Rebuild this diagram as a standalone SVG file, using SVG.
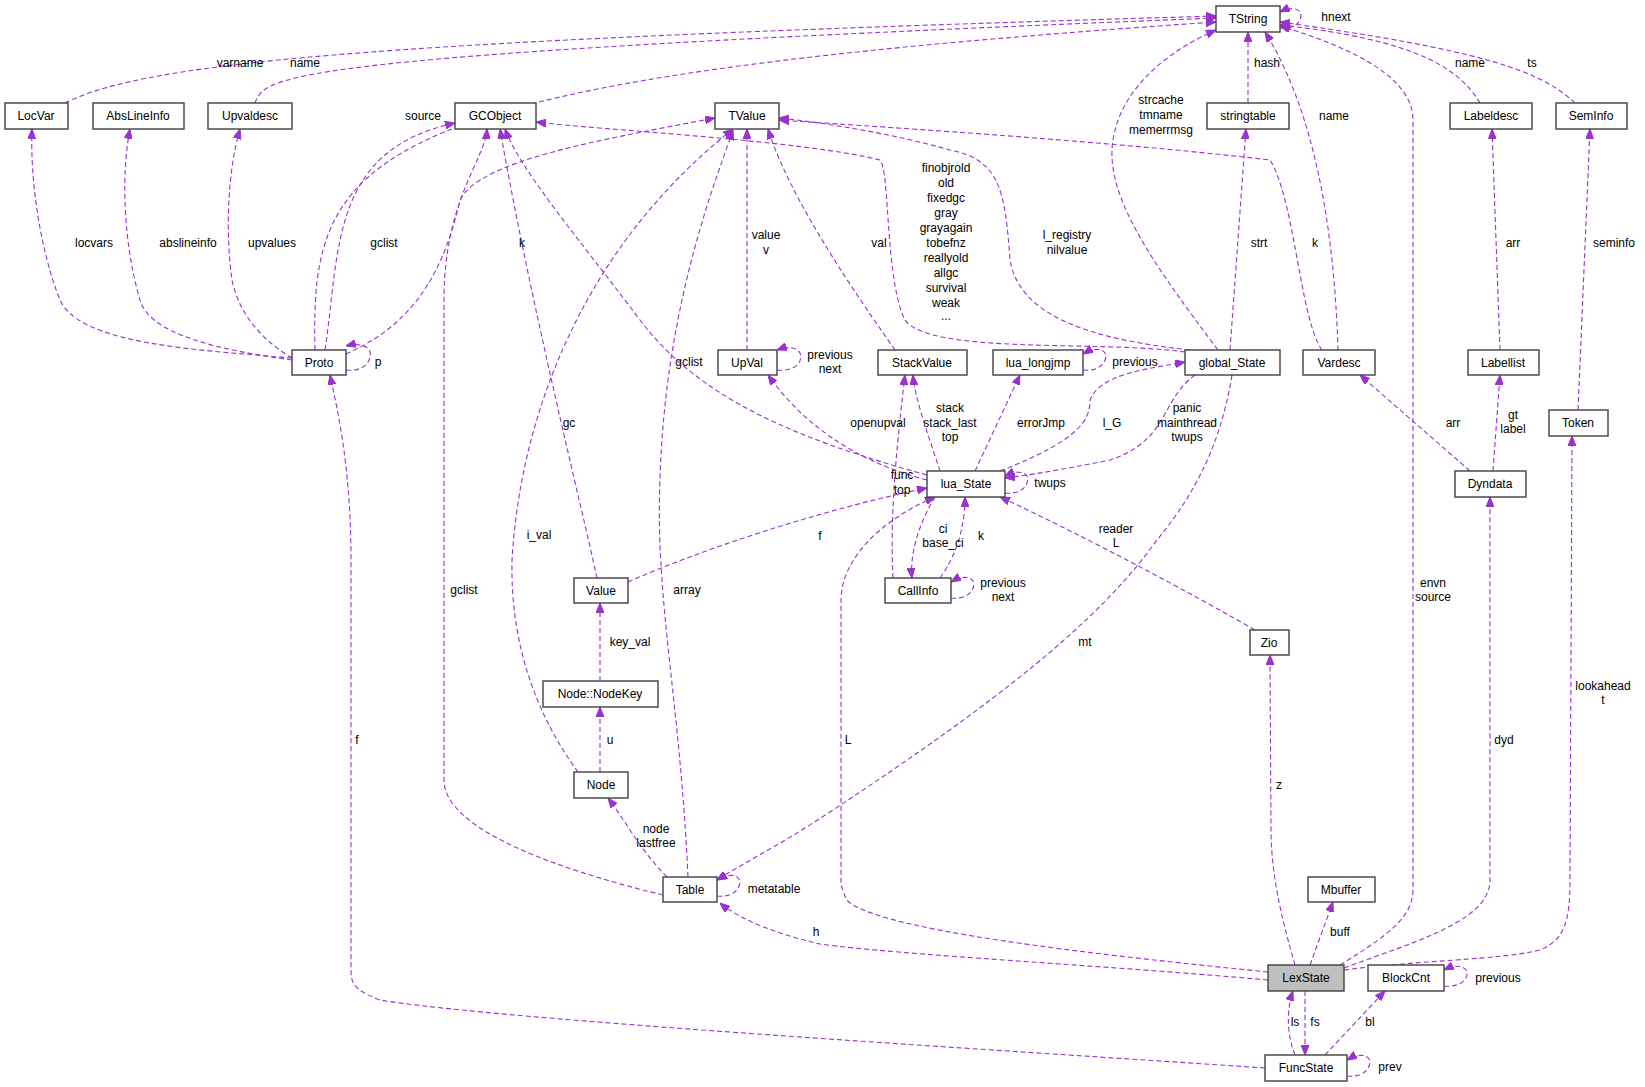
<svg xmlns="http://www.w3.org/2000/svg" width="1645" height="1087" viewBox="0 0 1645 1087">
<style>
.n rect{fill:#fff;stroke:#404040;stroke-width:1.4}
.n text,.l{font-family:"Liberation Sans",Arial,sans-serif;font-size:12px;fill:#000}
.n text{text-anchor:middle}
.l{text-anchor:middle}
.e path{fill:none;stroke:#9a32cd;stroke-width:1.1;stroke-dasharray:5,3;marker-end:url(#a)}
</style>
<defs>
<marker id="a" viewBox="0 0 10 8" refX="10" refY="4" markerWidth="10" markerHeight="8" markerUnits="userSpaceOnUse" orient="auto">
<path d="M0,0 L10,4 L0,8 Z" fill="#9a32cd" stroke="#9a32cd"/>
</marker>
</defs>
<rect width="1645" height="1087" fill="#fff"/>
<g class="e" id="edges">
<path d="M65,103 C150,60 400,40 1216,16"/>
<path d="M255,103 C265,75 280,55 1216,18"/>
<path d="M315,350 C310,150 360,80 1216,22"/>
<path d="M292,358 C200,350 80,345 60,300 C40,250 30,180 32,129"/>
<path d="M292,360 C220,350 150,335 140,300 C125,250 120,180 130,129"/>
<path d="M292,358 C270,345 240,320 232,280 C225,230 228,170 240,129"/>
<path d="M325,350 C340,250 330,150 455,123"/>
<path d="M346,354 C400,330 440,290 460,200 C480,160 600,140 715,118"/>
<path d="M346,370 C365,372 372,360 370,352 C368,345 358,343 346,346"/>
<path d="M663,895 C560,870 444,830 444,780 L444,300 C444,200 485,160 487,129"/>
<path d="M597,578 C580,500 530,300 500,129"/>
<path d="M927,475 C800,440 700,400 640,320 C580,240 520,170 505,129"/>
<path d="M1185,352 C1100,340 930,355 905,320 C885,280 890,170 880,160 C800,140 600,130 536,122"/>
<path d="M1190,350 C1100,340 1020,320 1010,260 C1005,190 1000,160 950,150 C880,130 800,120 779,118"/>
<path d="M1322,350 C1300,320 1295,200 1270,160 C1100,140 850,125 779,120"/>
<path d="M895,350 C860,300 790,200 768,129"/>
<path d="M747,350 L747,129"/>
<path d="M777,370 C797,372 803,360 800,353 C797,347 788,346 777,350"/>
<path d="M578,772 C540,720 510,650 512,560 C520,420 580,250 733,129"/>
<path d="M688,877 C680,700 655,600 660,480 C665,300 720,170 733,130"/>
<path d="M628,582 C700,550 820,510 927,488"/>
<path d="M600,681 L600,603"/>
<path d="M600,772 L600,707"/>
<path d="M667,877 C640,850 625,820 608,798"/>
<path d="M717,896 C737,898 742,884 739,879 C736,874 728,874 717,880"/>
<path d="M1232,375 C1220,450 1190,500 1157,540 C1100,620 1000,700 830,812 C780,845 740,865 717,880"/>
<path d="M1268,980 C1100,965 900,955 820,944 C780,935 740,920 720,903"/>
<path d="M1268,972 C1100,955 870,930 846,899 L841,885 L841,600 C841,560 880,520 935,497"/>
<path d="M1340,965 C1380,940 1413,920 1413,890 L1413,120 C1413,80 1360,50 1280,26"/>
<path d="M1344,968 C1420,940 1490,920 1490,880 L1490,497"/>
<path d="M1344,970 C1420,960 1500,960 1540,950 C1565,940 1570,920 1570,880 L1572,436"/>
<path d="M1295,965 C1285,930 1271,880 1271,830 L1270,655"/>
<path d="M1310,965 L1333,902"/>
<path d="M1305,991 L1305,1055"/>
<path d="M1295,1055 C1285,1030 1288,1005 1293,991"/>
<path d="M1325,1055 L1385,991"/>
<path d="M1444,986 C1464,988 1470,975 1466,970 C1462,965 1454,965 1444,970"/>
<path d="M1347,1076 C1367,1078 1372,1064 1369,1059 C1366,1054 1357,1054 1347,1060"/>
<path d="M1265,1068 C1000,1050 500,1020 380,1000 C355,990 351,985 351,970 L351,560 C351,460 335,400 330,375"/>
<path d="M1470,471 L1360,375"/>
<path d="M1493,471 L1500,375"/>
<path d="M1500,350 L1492,129"/>
<path d="M1578,410 L1590,129"/>
<path d="M1575,103 C1540,70 1480,50 1280,22"/>
<path d="M1480,103 C1460,70 1420,40 1280,25"/>
<path d="M1280,28 C1300,30 1303,16 1300,12 C1296,7 1288,8 1280,12"/>
<path d="M1248,103 L1248,32"/>
<path d="M1230,350 L1246,129"/>
<path d="M1218,350 C1150,260 1110,200 1112,150 C1115,90 1170,50 1216,30"/>
<path d="M1338,350 C1335,250 1320,120 1265,32"/>
<path d="M1000,471 C1080,440 1090,420 1090,400 C1100,375 1140,370 1185,362"/>
<path d="M1195,375 C1160,400 1170,440 1110,460 C1060,470 1030,475 1005,478"/>
<path d="M1005,493 C1025,495 1030,481 1027,476 C1024,471 1015,471 1005,476"/>
<path d="M975,471 L1020,375"/>
<path d="M1083,370 C1103,372 1108,358 1105,353 C1102,348 1093,348 1083,354"/>
<path d="M940,471 C930,440 915,400 913,375"/>
<path d="M893,578 C890,520 895,460 905,375"/>
<path d="M927,480 C850,460 800,420 768,375"/>
<path d="M935,497 C915,530 910,560 912,578"/>
<path d="M940,578 C960,550 965,520 965,497"/>
<path d="M1255,630 C1150,570 1050,520 1000,497"/>
<path d="M951,598 C971,600 976,586 973,581 C970,576 961,576 951,582"/>
</g>
<g class="l">
<text class="l" x="240" y="67">varname</text>
<text class="l" x="305" y="67">name</text>
<text class="l" x="94" y="247">locvars</text>
<text class="l" x="188" y="247">abslineinfo</text>
<text class="l" x="272" y="247">upvalues</text>
<text class="l" x="384" y="247">gclist</text>
<text class="l" x="423" y="120">source</text>
<text class="l" x="522" y="247">k</text>
<text class="l" x="766" y="239">value</text>
<text class="l" x="766" y="254">v</text>
<text class="l" x="689" y="366">gclist</text>
<text class="l" x="569" y="427">gc</text>
<text class="l" x="539" y="539">i_val</text>
<text class="l" x="378" y="366">p</text>
<text class="l" x="1336" y="21">hnext</text>
<text class="l" x="1470" y="67">name</text>
<text class="l" x="1532" y="67">ts</text>
<text class="l" x="1267" y="67">hash</text>
<text class="l" x="1161" y="104">strcache</text>
<text class="l" x="1161" y="119">tmname</text>
<text class="l" x="1161" y="134">memerrmsg</text>
<text class="l" x="1334" y="120">name</text>
<text class="l" x="946" y="172">finobjrold</text>
<text class="l" x="946" y="187">old</text>
<text class="l" x="946" y="202">fixedgc</text>
<text class="l" x="946" y="217">gray</text>
<text class="l" x="946" y="232">grayagain</text>
<text class="l" x="946" y="247">tobefnz</text>
<text class="l" x="946" y="262">reallyold</text>
<text class="l" x="946" y="277">allgc</text>
<text class="l" x="946" y="292">survival</text>
<text class="l" x="946" y="307">weak</text>
<text class="l" x="946" y="320">...</text>
<text class="l" x="879" y="247">val</text>
<text class="l" x="1067" y="239">l_registry</text>
<text class="l" x="1067" y="254">nilvalue</text>
<text class="l" x="1259" y="247">strt</text>
<text class="l" x="1315" y="247">k</text>
<text class="l" x="1513" y="247">arr</text>
<text class="l" x="1614" y="247">seminfo</text>
<text class="l" x="1135" y="366">previous</text>
<text class="l" x="830" y="359">previous</text>
<text class="l" x="830" y="373">next</text>
<text class="l" x="950" y="412">stack</text>
<text class="l" x="950" y="427">stack_last</text>
<text class="l" x="950" y="441">top</text>
<text class="l" x="878" y="427">openupval</text>
<text class="l" x="1041" y="427">errorJmp</text>
<text class="l" x="1112" y="427">l_G</text>
<text class="l" x="1187" y="412">panic</text>
<text class="l" x="1187" y="427">mainthread</text>
<text class="l" x="1187" y="441">twups</text>
<text class="l" x="1453" y="427">arr</text>
<text class="l" x="1513" y="419">gt</text>
<text class="l" x="1513" y="433">label</text>
<text class="l" x="902" y="479">func</text>
<text class="l" x="902" y="494">top</text>
<text class="l" x="1050" y="487">twups</text>
<text class="l" x="943" y="533">ci</text>
<text class="l" x="943" y="547">base_ci</text>
<text class="l" x="981" y="540">k</text>
<text class="l" x="1116" y="533">reader</text>
<text class="l" x="1116" y="547">L</text>
<text class="l" x="820" y="540">f</text>
<text class="l" x="464" y="594">gclist</text>
<text class="l" x="687" y="594">array</text>
<text class="l" x="630" y="646">key_val</text>
<text class="l" x="610" y="744">u</text>
<text class="l" x="357" y="744">f</text>
<text class="l" x="656" y="833">node</text>
<text class="l" x="656" y="847">lastfree</text>
<text class="l" x="774" y="893">metatable</text>
<text class="l" x="816" y="936">h</text>
<text class="l" x="1003" y="587">previous</text>
<text class="l" x="1003" y="601">next</text>
<text class="l" x="1433" y="587">envn</text>
<text class="l" x="1433" y="601">source</text>
<text class="l" x="1603" y="690">lookahead</text>
<text class="l" x="1603" y="704">t</text>
<text class="l" x="1504" y="744">dyd</text>
<text class="l" x="848" y="744">L</text>
<text class="l" x="1085" y="646">mt</text>
<text class="l" x="1279" y="789">z</text>
<text class="l" x="1340" y="936">buff</text>
<text class="l" x="1498" y="982">previous</text>
<text class="l" x="1295" y="1026">ls</text>
<text class="l" x="1315" y="1026">fs</text>
<text class="l" x="1370" y="1026">bl</text>
<text class="l" x="1390" y="1071">prev</text>
</g>
<g class="n" id="TString"><rect x="1216" y="6" width="64" height="26"/><text x="1248" y="23">TString</text></g>
<g class="n" id="LocVar"><rect x="5" y="103" width="63" height="26"/><text x="36" y="120">LocVar</text></g>
<g class="n" id="AbsLineInfo"><rect x="93" y="103" width="91" height="26"/><text x="138" y="120">AbsLineInfo</text></g>
<g class="n" id="Upvaldesc"><rect x="208" y="103" width="84" height="26"/><text x="250" y="120">Upvaldesc</text></g>
<g class="n" id="GCObject"><rect x="455" y="103" width="81" height="26"/><text x="495" y="120">GCObject</text></g>
<g class="n" id="TValue"><rect x="715" y="103" width="64" height="26"/><text x="747" y="120">TValue</text></g>
<g class="n" id="stringtable"><rect x="1207" y="103" width="82" height="26"/><text x="1248" y="120">stringtable</text></g>
<g class="n" id="Labeldesc"><rect x="1450" y="103" width="82" height="26"/><text x="1491" y="120">Labeldesc</text></g>
<g class="n" id="SemInfo"><rect x="1556" y="103" width="71" height="26"/><text x="1591" y="120">SemInfo</text></g>
<g class="n" id="Proto"><rect x="292" y="350" width="54" height="25"/><text x="319" y="367">Proto</text></g>
<g class="n" id="UpVal"><rect x="718" y="350" width="59" height="25"/><text x="747" y="367">UpVal</text></g>
<g class="n" id="StackValue"><rect x="878" y="350" width="89" height="25"/><text x="922" y="367">StackValue</text></g>
<g class="n" id="lua_longjmp"><rect x="993" y="350" width="90" height="25"/><text x="1038" y="367">lua_longjmp</text></g>
<g class="n" id="global_State"><rect x="1185" y="350" width="95" height="25"/><text x="1232" y="367">global_State</text></g>
<g class="n" id="Vardesc"><rect x="1303" y="350" width="72" height="25"/><text x="1339" y="367">Vardesc</text></g>
<g class="n" id="Labellist"><rect x="1468" y="350" width="71" height="25"/><text x="1503" y="367">Labellist</text></g>
<g class="n" id="Token"><rect x="1549" y="410" width="59" height="26"/><text x="1578" y="427">Token</text></g>
<g class="n" id="lua_State"><rect x="927" y="471" width="78" height="26"/><text x="966" y="488">lua_State</text></g>
<g class="n" id="Dyndata"><rect x="1455" y="471" width="71" height="26"/><text x="1490" y="488">Dyndata</text></g>
<g class="n" id="Value"><rect x="574" y="578" width="54" height="25"/><text x="601" y="595">Value</text></g>
<g class="n" id="CallInfo"><rect x="885" y="578" width="66" height="25"/><text x="918" y="595">CallInfo</text></g>
<g class="n" id="Zio"><rect x="1250" y="630" width="39" height="25"/><text x="1269" y="647">Zio</text></g>
<g class="n" id="NodeKey"><rect x="543" y="681" width="115" height="26"/><text x="600" y="698">Node::NodeKey</text></g>
<g class="n" id="Node"><rect x="574" y="772" width="54" height="26"/><text x="601" y="789">Node</text></g>
<g class="n" id="Table"><rect x="663" y="877" width="54" height="25"/><text x="690" y="894">Table</text></g>
<g class="n" id="Mbuffer"><rect x="1308" y="877" width="67" height="25"/><text x="1341" y="894">Mbuffer</text></g>
<g class="n" id="LexState"><rect x="1268" y="965" width="76" height="26" style="fill:#bfbfbf"/><text x="1306" y="982">LexState</text></g>
<g class="n" id="BlockCnt"><rect x="1368" y="965" width="76" height="26"/><text x="1406" y="982">BlockCnt</text></g>
<g class="n" id="FuncState"><rect x="1265" y="1055" width="82" height="26"/><text x="1306" y="1072">FuncState</text></g>
</svg>
